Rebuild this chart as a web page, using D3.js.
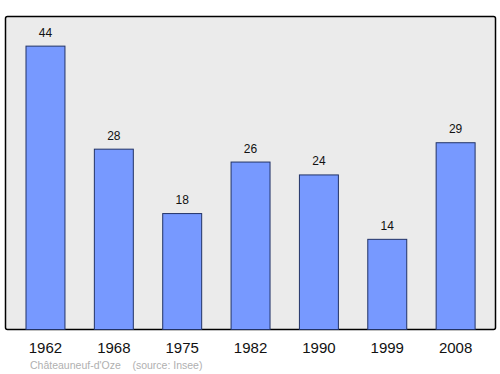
<!DOCTYPE html>
<head>
<meta charset="utf-8">
<script src="https://d3js.org/d3.v7.min.js"></script>
<style>
  body { margin: 0; background: #fff; font-family: "Liberation Sans", Arial, sans-serif; }
</style>
</head>
<body>
<div id="vis"></div>
<script>
var years = ["1962", "1968", "1975", "1982", "1990", "1999", "2008"];
var population = [44, 28, 18, 26, 24, 14, 29];
var caption = "Châteauneuf-d'Oze    (source: Insee)";

var width = 500, height = 374;
var frame = {left: 5.5, top: 16.5, right: 495.5, bottom: 329.5};

var svg = d3.select("#vis").append("svg")
    .attr("width", width)
    .attr("height", height);

var x = d3.scaleBand()
    .domain(years)
    .range([11.3, 489.8])
    .paddingInner(0.43)
    .paddingOuter(0.215);

var y = d3.scaleLinear()
    .domain([0, 48.6])
    .range([frame.bottom, frame.top]);

// background frame
svg.append("rect")
    .attr("x", frame.left)
    .attr("y", frame.top)
    .attr("width", frame.right - frame.left)
    .attr("height", frame.bottom - frame.top)
    .attr("rx", 2)
    .attr("fill", "#ebebeb")
    .attr("stroke", "#000")
    .attr("stroke-width", 1.5);

// bars
svg.selectAll(".bar")
    .data(population)
    .enter()
    .append("rect")
    .attr("class", "bar")
    .attr("x", function(d, i) { return x(years[i]); })
    .attr("y", function(d) { return y(d); })
    .attr("width", x.bandwidth())
    .attr("height", function(d) { return y(0) - y(d); })
    .attr("fill", "#7799ff")
    .attr("stroke", "#223366")
    .attr("stroke-width", 1);

// value labels
svg.selectAll(".val")
    .data(population)
    .enter()
    .append("text")
    .attr("class", "val")
    .attr("x", function(d, i) { return x(years[i]) + x.bandwidth() / 2; })
    .attr("y", function(d) { return y(d) - 9.5; })
    .attr("text-anchor", "middle")
    .attr("font-size", 12)
    .attr("fill", "#111")
    .text(function(d) { return d; });

// year labels
svg.selectAll(".year")
    .data(years)
    .enter()
    .append("text")
    .attr("class", "year")
    .attr("x", function(d) { return x(d) + x.bandwidth() / 2; })
    .attr("y", 353)
    .attr("text-anchor", "middle")
    .attr("font-size", 15)
    .attr("fill", "#111")
    .text(function(d) { return d; });

svg.append("text")
    .attr("x", 30)
    .attr("y", 369)
    .attr("font-size", 10.5)
    .attr("fill", "#b0b0b0")
    .style("white-space", "pre")
    .text(caption);
</script>
</body>
